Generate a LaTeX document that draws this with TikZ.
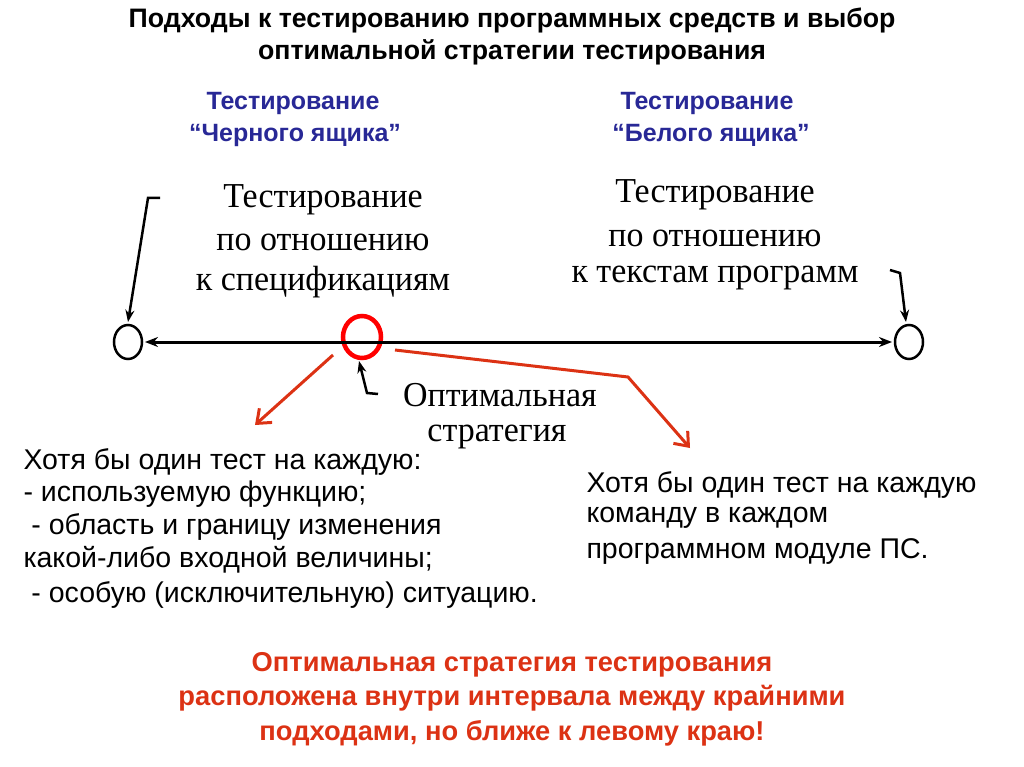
\documentclass[tikz,border=0pt]{standalone}
\usepackage{fontspec}
\setmainfont{Liberation Serif}
\setsansfont{Liberation Sans}
\usetikzlibrary{arrows.meta}
\definecolor{tblue}{RGB}{40,40,150}
\definecolor{tred}{RGB}{220,50,20}
\begin{document}
\begin{tikzpicture}[x=1pt,y=-1pt,
  ttl/.style={font=\sffamily\bfseries\fontsize{26.7}{30}\selectfont},
  blu/.style={font=\sffamily\bfseries\fontsize{25}{28}\selectfont,text=tblue},
  ser/.style={font=\fontsize{35}{38}\selectfont\addfontfeature{FakeStretch=0.97}},
  sans/.style={font=\sffamily\fontsize{28.5}{32}\selectfont},
  redt/.style={font=\sffamily\bfseries\fontsize{27.3}{30}\selectfont,text=tred},
  rarr/.style={draw=tred,line width=3pt,-{Straight Barb[length=12pt,width=19pt]}},
  barr/.style={draw,line width=2.5pt,-{Stealth[length=12pt,width=9pt]}}]
\useasboundingbox (0,0) rectangle (1024,767);
\node[ttl] (t1) at (512,20) {Подходы к тестированию программных средств и выбор};
\node[ttl] (t2) at (512,52) {оптимальной стратегии тестирования};
\node[blu] (b1) at (293,103) {Тестирование};
\node[blu] (b2) at (295,135) {“Черного ящика”};
\node[blu] (b3) at (707,103) {Тестирование};
\node[blu] (b4) at (711,135) {“Белого ящика”};
\node[ser] (s1) at (323,200) {Тестирование};
\node[ser] (s2) at (323,242) {по отношению};
\node[ser] (s3) at (323,282) {к спецификациям};
\node[ser] (s4) at (715,195) {Тестирование};
\node[ser] (s5) at (715,238) {по отношению};
\node[ser] (s6) at (715,278) {к текстам программ};
\node[ser] (o1) at (500,395) {Оптимальная};
\node[ser] (o2) at (497,437) {стратегия};
\draw[line width=2.5pt] (128,342) ellipse (14 and 17);
\draw[line width=2.5pt] (909,342) ellipse (14 and 17);
\draw[draw=red,line width=4.5pt] (362,337) ellipse (19 and 21);
\coordinate (L) at (145,342); \coordinate (R) at (892,342);
\draw[line width=3pt,{Stealth[length=13pt,width=10pt]}-{Stealth[length=13pt,width=10pt]}] (L) -- (R);
\coordinate (a1) at (160,198); \coordinate (a2) at (148,198); \coordinate (a3) at (128,322);
\draw[barr] (a1) -- (a2) -- (a3);
\coordinate (c1) at (890,270); \coordinate (c2) at (900,273); \coordinate (c3) at (906,322);
\draw[barr] (c1) -- (c2) -- (c3);
\coordinate (d1) at (378,394); \coordinate (d2) at (367,393); \coordinate (d3) at (359,361);
\draw[barr] (d1) -- (d2) -- (d3);
\coordinate (e1) at (333,355); \coordinate (e2) at (255,425);
\draw[rarr] (e1) -- (e2);
\coordinate (f1) at (395,350); \coordinate (f2) at (628,377); \coordinate (f3) at (690,448);
\draw[rarr] (f1) -- (f2) -- (f3);
\node[sans,anchor=west] (l1) at (20,462) {Хотя бы один тест на каждую:};
\node[sans,anchor=west] (l2) at (20,494) {- используемую функцию;};
\node[sans,anchor=west] (l3) at (20,527) {\ - область и границу изменения};
\node[sans,anchor=west] (l4) at (20,560) {какой-либо входной величины;};
\node[sans,anchor=west] (l5) at (20,595) {\ - особую (исключительную) ситуацию.};
\node[sans,anchor=west] (r1) at (583,485) {Хотя бы один тест на каждую};
\node[sans,anchor=west] (r2) at (583,518) {команду в каждом};
\node[sans,anchor=west] (r3) at (583,552) {программном модуле ПС.};
\node[redt] (m1) at (512,665) {Оптимальная стратегия тестирования};
\node[redt] (m2) at (512,698) {расположена внутри интервала между крайними};
\node[redt] (m3) at (512,733) {подходами, но ближе к левому краю!};
\end{tikzpicture}
\end{document}
